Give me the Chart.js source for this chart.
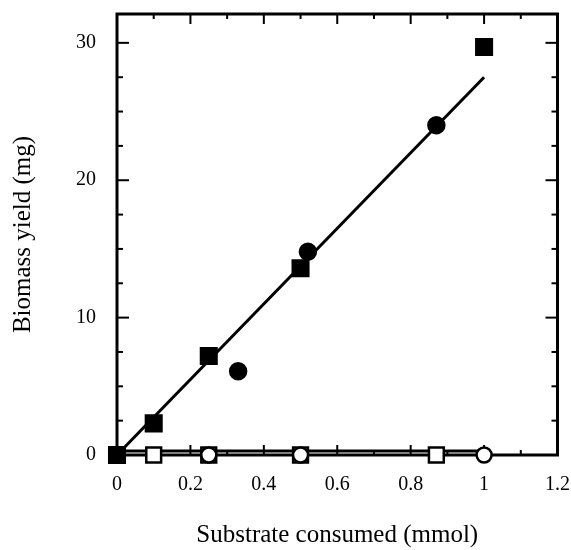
<!DOCTYPE html>
<html>
<head>
<meta charset="utf-8">
<script src="https://cdn.jsdelivr.net/npm/chart.js@4.4.0/dist/chart.umd.min.js"></script>
<style>
  html, body { margin: 0; padding: 0; background: #fff; }
  #wrap { width: 571px; height: 550px; }
</style>
</head>
<body>
<div id="wrap"><canvas id="yieldChart"></canvas></div>
<script>
// Biomass yield against substrate consumed
const filledSquareX = [0, 0.1, 0.25, 0.5, 1.0];
const filledSquareY = [0, 2.3, 7.2, 13.6, 29.7];
const filledCircleX = [0.33, 0.52, 0.87];
const filledCircleY = [6.1, 14.8, 24.0];
const openSquareX = [0.1, 0.25, 0.5, 0.87];
const openSquareY = [0, 0, 0, 0];
const openCircleX = [0.25, 0.5, 1.0];
const openCircleY = [0, 0, 0];

// fitted lines (end points)
const fitGrowthX = [0, 1.0];
const fitGrowthY = [0, 27.5];
const fitFlatX = [0, 1.0];
const fitFlatY = [0.3, 0.3];

// axes
const xMin = 0, xMax = 1.2, xMinorStep = 0.1, xLabelEvery = 2;
const yMin = 0, yMax = 32.1, yMinorStep = 2.5, yLabelEvery = 4;

const pts = (xs, ys) => xs.map((x, i) => ({ x: x, y: ys[i] }));
const serif = 'Liberation Serif, Times New Roman, serif';

// fixed box sizes so the plot area lands where it should
const fixBox = (w, h) => s => {
    if (w) s.width = w;
    if (h) s.height = h;
    s.paddingLeft = s.paddingRight = s.paddingTop = s.paddingBottom = 0;
};

// ticks point inward on all four sides, box drawn round the plot
const frameTicks = {
    id: 'frameTicks',
    beforeDatasetsDraw(chart) {
        const { ctx, chartArea: a, scales: { x, y } } = chart;
        ctx.save();
        ctx.strokeStyle = '#000';
        ctx.lineWidth = 2;
        const seg = (x1, y1, x2, y2) => {
            ctx.beginPath();
            ctx.moveTo(x1, y1);
            ctx.lineTo(x2, y2);
            ctx.stroke();
        };
        x.ticks.forEach(t => {
            const n = t.value / xMinorStep;
            if (Math.abs(n - Math.round(n)) > 1e-6) return;
            const len = Math.round(n) % xLabelEvery === 0 ? 10 : 5;
            const px = x.getPixelForValue(t.value);
            seg(px, a.bottom, px, a.bottom - len);
            seg(px, a.top, px, a.top + len);
        });
        y.ticks.forEach(t => {
            const n = t.value / yMinorStep;
            if (Math.abs(n - Math.round(n)) > 1e-6) return;
            const len = Math.round(n) % yLabelEvery === 0 ? 12 : 6;
            const py = y.getPixelForValue(t.value);
            seg(a.left, py, a.left + len, py);
            seg(a.right, py, a.right - len, py);
        });
        ctx.lineWidth = 3;
        ctx.strokeRect(a.left, a.top, a.right - a.left, a.bottom - a.top);
        ctx.restore();
    }
};

const markers = (label, data, style, radius, fill) => ({
    label: label,
    data: data,
    showLine: false,
    pointStyle: style,
    pointRadius: radius,
    pointHoverRadius: radius,
    pointBackgroundColor: fill,
    pointBorderColor: '#000',
    pointBorderWidth: 2.5,
    clip: false
});

const fitLine = (label, data) => ({
    label: label,
    data: data,
    showLine: true,
    borderColor: '#000',
    borderWidth: 3,
    pointRadius: 0,
    fill: false,
    clip: false
});

new Chart(document.getElementById('yieldChart'), {
    type: 'scatter',
    data: {
        datasets: [
            markers('filled squares', pts(filledSquareX, filledSquareY), 'rect', 11, '#000'),
            markers('filled circles', pts(filledCircleX, filledCircleY), 'circle', 8, '#000'),
            markers('open circles', pts(openCircleX, openCircleY), 'circle', 7.5, '#fff'),
            markers('open squares', pts(openSquareX, openSquareY), 'rect', 10.5, '#fff'),
            fitLine('growth fit', pts(fitGrowthX, fitGrowthY)),
            fitLine('flat fit', pts(fitFlatX, fitFlatY))
        ]
    },
    options: {
        responsive: true,
        maintainAspectRatio: false,
        animation: false,
        devicePixelRatio: 1,
        layout: { padding: { top: 14, right: 12, left: 0, bottom: 0 } },
        plugins: {
            legend: { display: false },
            tooltip: { enabled: false }
        },
        scales: {
            x: {
                type: 'linear',
                min: xMin,
                max: xMax,
                afterFit: fixBox(0, 95),
                grid: { display: false, drawTicks: false },
                border: { display: false },
                ticks: {
                    stepSize: xMinorStep,
                    autoSkip: false,
                    maxRotation: 0,
                    padding: 18,
                    color: '#000',
                    font: { family: serif, size: 20 },
                    callback: v => {
                        const n = Math.round(v / xMinorStep);
                        return n % xLabelEvery === 0 ? String(Number(v.toFixed(1))) : '';
                    }
                },
                title: {
                    display: true,
                    text: 'Substrate consumed (mmol)',
                    color: '#000',
                    font: { family: serif, size: 25 },
                    padding: { top: 0, bottom: 0 }
                }
            },
            y: {
                type: 'linear',
                min: yMin,
                max: yMax,
                afterFit: fixBox(117, 0),
                grid: { display: false, drawTicks: false },
                border: { display: false },
                ticks: {
                    stepSize: yMinorStep,
                    autoSkip: false,
                    padding: 21,
                    color: '#000',
                    font: { family: serif, size: 20 },
                    callback: v => {
                        const n = v / yMinorStep;
                        if (Math.abs(n - Math.round(n)) > 1e-6) return '';
                        return Math.round(n) % yLabelEvery === 0 ? String(v) : '';
                    }
                },
                title: {
                    display: true,
                    text: 'Biomass yield (mg)',
                    color: '#000',
                    font: { family: serif, size: 25 },
                    padding: { top: 8, bottom: 0 }
                }
            }
        }
    },
    plugins: [frameTicks]
});
</script>
</body>
</html>
